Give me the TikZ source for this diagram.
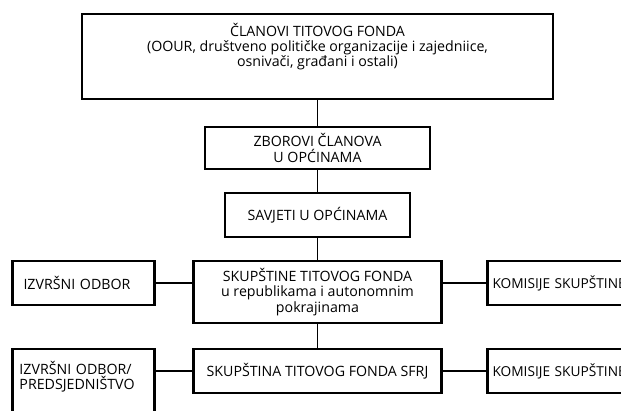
\documentclass[tikz,border=0pt]{standalone}
\usepackage{fontspec}
\setmainfont{Open Sans}
\usetikzlibrary{positioning}

\begin{document}
\begin{tikzpicture}[x=1pt, y=1pt, font=\fontsize{14.2}{15.2}\selectfont,
    box/.style={draw, line width=2.8pt, align=center, inner sep=0pt, outer sep=0pt},
    side/.style={box, align=left, inner xsep=11pt, text width=120pt, minimum height=44pt},
    link/.style={line width=1.7pt}]
    \clip (0,0) rectangle (621,-410);
    % Nodes {clanovi, zbor, savjeti, skup, sfrj, etc}
    \node [box, minimum width=471pt, minimum height=85pt] (clanovi) at (317.5,-56.5)
        {ČLANOVI TITOVOG FONDA\\(OOUR, društveno političke organizacije i zajedniice,\\osnivači, građani i ostali)\\[4pt]\strut};
    \node [box, minimum width=225pt, minimum height=42pt] (zbor)    [below=28pt of clanovi] {ZBOROVI ČLANOVA\\U OPĆINAMA};
    \node [box, minimum width=185pt, minimum height=44pt] (savjeti) [below=24pt of zbor]    {SAVJETI U OPĆINAMA};
    \node [box, minimum width=248pt, minimum height=62pt] (skup)    [below=24pt of savjeti] {SKUPŠTINE TITOVOG FONDA\\u republikama i autonomnim\\pokrajinama};
    \node [box, minimum width=248pt, minimum height=44pt] (sfrj)    [below=26pt of skup]    {SKUPŠTINA TITOVOG FONDA SFRJ};
    \node [side] (izvrsni)   [left=39pt of skup.north west, anchor=north east]  {IZVRŠNI ODBOR};
    \node [side, inner xsep=5pt, text width=180pt, font=\fontsize{13.7}{15}\selectfont] (komisije)
        [right=46pt of skup.north east, anchor=north west] {KOMISIJE SKUPŠTINE};
    \node [side, inner xsep=7pt, text width=128pt, inner ysep=12pt] (izvrsni2)  [left=39pt of sfrj.north west, anchor=north east]
        {IZVRŠNI ODBOR/\\PREDSJEDNIŠTVO\\[6pt]\strut};
    \node [side, inner xsep=5pt, text width=180pt, font=\fontsize{13.7}{15}\selectfont] (komisije2)
        [right=46pt of sfrj] {KOMISIJE SKUPŠTINE};

    % Paths
    \path [link] (clanovi) edge (zbor);
    \path [link] (zbor)    edge (savjeti);
    \path [link] (savjeti) edge (skup);
    \path [link] (skup)    edge (sfrj);
    \path [link] (izvrsni)  edge (izvrsni -| skup.west);
    \path [link] (komisije) edge (komisije -| skup.east);
    \path [link] (sfrj) edge (sfrj -| izvrsni2.east);
    \path [link] (sfrj) edge (sfrj -| komisije2.west);
\end{tikzpicture}
\end{document}
